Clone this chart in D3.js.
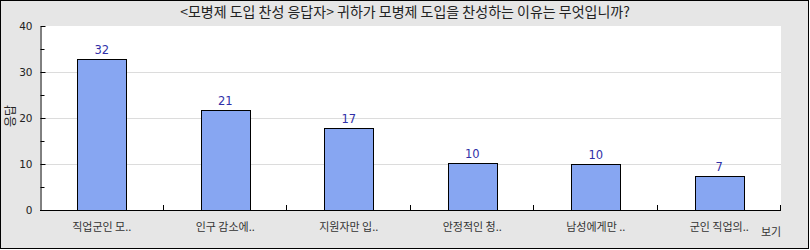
<!DOCTYPE html>
<html>
<head>
<meta charset="utf-8">
<script src="https://cdn.jsdelivr.net/npm/d3@7"></script>
<style>
	body { margin: 0; background: #fff; }
	svg text { font-family: "Noto Sans CJK KR", "DejaVu Sans", sans-serif; }
	.num { font-family: "DejaVu Sans", sans-serif; }
</style>
</head>
<body>
<svg id="chart" width="810" height="250"></svg>
<script>
// chart data (bars look like percentages, labels are cut to whole numbers)
const titleText = "<모병제 도입 찬성 응답자> 귀하가 모병제 도입을 찬성하는 이유는 무엇입니까?";
const categories = ["직업군인 모..", "인구 감소에..", "지원자만 입..", "안정적인 청..", "남성에게만 ..", "군인 직업의.."];
const values = [32.8, 21.7, 17.8, 10.3, 10.0, 7.4];
const valueLabels = ["32", "21", "17", "10", "10", "7"];
const yTicks = [0, 10, 20, 30, 40];
const yMinorTicks = [5, 15, 25, 35];
const yTitle = "응답";
const legendText = "보기";

const svg = d3.select("#chart");
const W = 810, H = 250;
const plot = { left: 40, right: 781, top: 26, bottom: 210 };

// frame
svg.append("rect")
	.attr("x", 0.5).attr("y", 0.5)
	.attr("width", W - 2).attr("height", H - 2)
	.attr("fill", "#e6e6e6")
	.attr("stroke", "#000");

svg.append("rect")
	.attr("x", plot.left).attr("y", plot.top)
	.attr("width", plot.right - plot.left).attr("height", plot.bottom - plot.top)
	.attr("fill", "#fff");

svg.append("text")
	.attr("x", W / 2).attr("y", 17)
	.attr("text-anchor", "middle")
	.attr("font-size", 14)
	.attr("fill", "#222")
	.text(titleText);

// scales
const x = d3.scaleBand()
	.domain(categories)
	.range([plot.left, plot.right])
	.paddingInner(0)
	.paddingOuter(0);

const y = d3.scaleLinear()
	.domain([0, 40])
	.range([plot.bottom, plot.top]);

// gridlines
svg.append("g")
	.selectAll("line")
	.data(yTicks.filter(d => d > 0 && d < 40))
	.enter()
	.append("line")
	.attr("x1", plot.left).attr("x2", plot.right)
	.attr("y1", d => Math.round(y(d)) + 0.5)
	.attr("y2", d => Math.round(y(d)) + 0.5)
	.attr("stroke", "#dcdcdc");

// bars
const barW = x.bandwidth() * 0.4;
svg.append("g")
	.selectAll("rect")
	.data(values)
	.enter()
	.append("rect")
	.attr("x", (d, i) => Math.round(x(categories[i]) + (x.bandwidth() - barW) / 2) + 0.5)
	.attr("y", d => Math.round(y(d)) + 0.5)
	.attr("width", Math.round(barW))
	.attr("height", d => Math.round(y(0)) - Math.round(y(d)))
	.attr("fill", "#87a6f2")
	.attr("stroke", "#000");

svg.append("g")
	.selectAll("text")
	.data(values)
	.enter()
	.append("text")
	.attr("class", "num")
	.attr("x", (d, i) => x(categories[i]) + x.bandwidth() / 2)
	.attr("y", d => y(d) - 5)
	.attr("text-anchor", "middle")
	.attr("font-size", 11.5)
	.attr("fill", "#3030a8")
	.text((d, i) => valueLabels[i]);

// y axis
const yAxis = svg.append("g")
	.attr("transform", `translate(${plot.left + 0.5},0)`)
	.call(d3.axisLeft(y).tickValues(yTicks).tickSizeInner(-5).tickSizeOuter(0).tickPadding(8));
yAxis.select(".domain").attr("stroke", "#000");
yAxis.selectAll("text").attr("font-size", 10.5).attr("fill", "#222")
	.style("font-family", "DejaVu Sans, sans-serif");

svg.append("g")
	.attr("transform", `translate(${plot.left + 0.5},0)`)
	.call(d3.axisLeft(y).tickValues(yMinorTicks).tickSizeInner(-4).tickSizeOuter(0).tickFormat(""))
	.select(".domain").remove();

svg.append("text")
	.attr("transform", "translate(9,116) rotate(-90)")
	.attr("text-anchor", "middle")
	.attr("dominant-baseline", "central")
	.attr("font-size", 12)
	.attr("fill", "#222")
	.text(yTitle);

// x axis: line plus ticks on the category boundaries
svg.append("line")
	.attr("x1", plot.left).attr("x2", plot.right)
	.attr("y1", plot.bottom + 0.5).attr("y2", plot.bottom + 0.5)
	.attr("stroke", "#000");

svg.append("g")
	.selectAll("line")
	.data(categories)
	.enter()
	.append("line")
	.attr("x1", d => Math.round(x(d) + x.step()) - 0.5)
	.attr("x2", d => Math.round(x(d) + x.step()) - 0.5)
	.attr("y1", plot.bottom - 5).attr("y2", plot.bottom)
	.attr("stroke", "#000");

svg.append("g")
	.selectAll("text")
	.data(categories)
	.enter()
	.append("text")
	.attr("x", d => x(d) + x.bandwidth() / 2)
	.attr("y", 231)
	.attr("text-anchor", "middle")
	.attr("font-size", 11)
	.attr("fill", "#333")
	.text(d => d);

svg.append("text")
	.attr("x", 771).attr("y", 236)
	.attr("text-anchor", "middle")
	.attr("font-size", 11)
	.attr("fill", "#333")
	.text(legendText);
</script>
</body>
</html>
